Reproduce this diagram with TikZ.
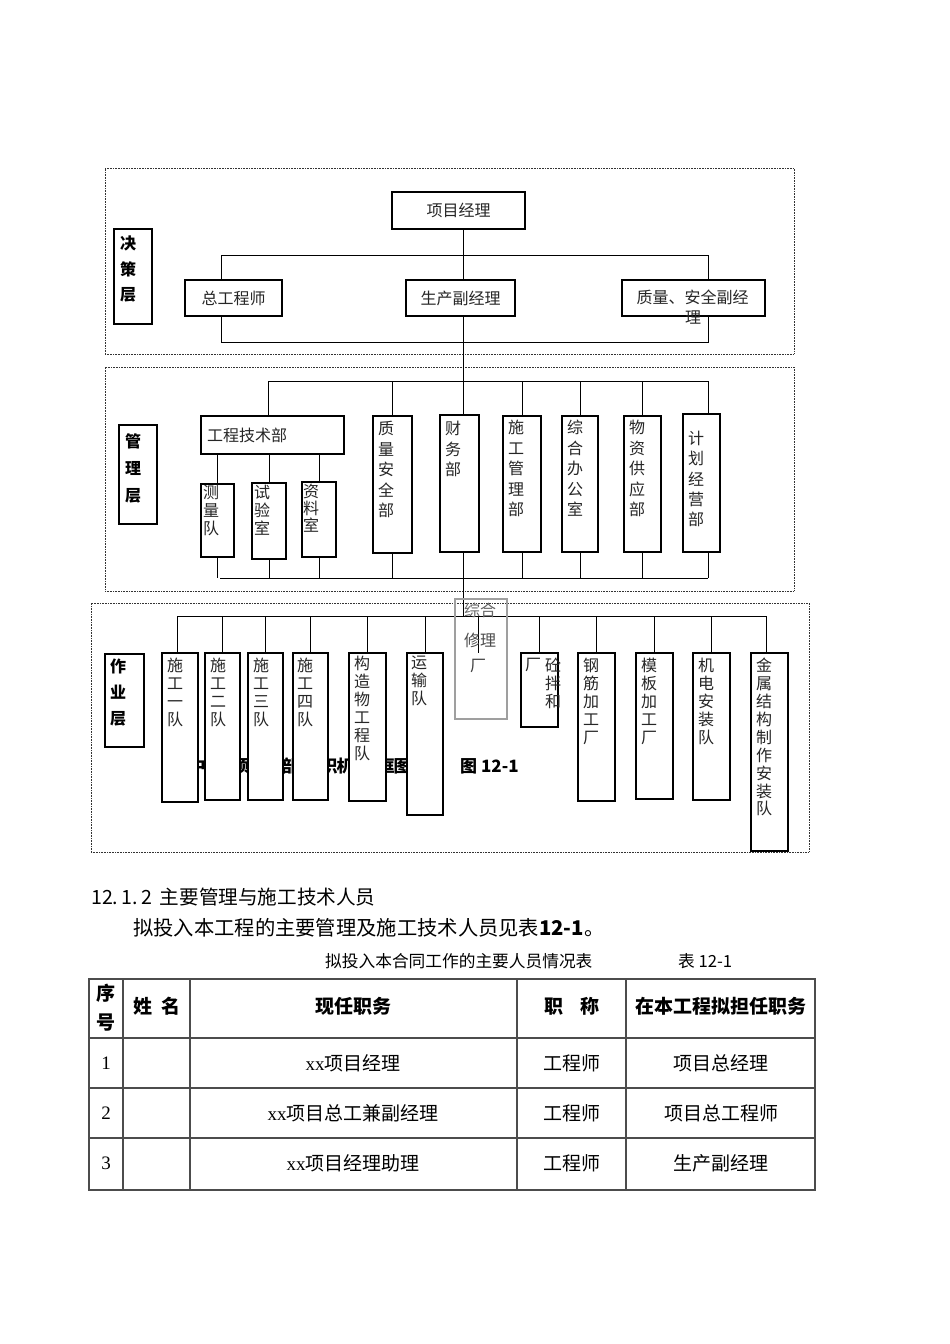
\documentclass[tikz,border=0pt]{standalone}
\usepackage{fontspec}
\setmainfont{Noto Sans CJK SC}
\newfontfamily\serifd{Liberation Serif}
\usetikzlibrary{fit}
\begin{document}
\begin{tikzpicture}[x=1pt,y=-1pt,
  box/.style={draw, line width=1.1pt, fill=white, inner sep=0pt},
  gbox/.style={draw=gray!75, line width=1.5pt, inner sep=0pt},
  lbox/.style={draw, line width=1.3pt, fill=white, inner sep=0pt},
  conn/.style={line width=1pt},
  frame/.style={draw=black!80, line width=0.8pt, dash pattern=on 0.8pt off 0.8pt, inner sep=0pt},
  vt/.style={anchor=north west, inner sep=0pt, align=left, text=black!85, font=\fontsize{16}{20.5}\selectfont},
  vts/.style={anchor=north west, inner sep=0pt, align=left, text=black!85, font=\fontsize{16}{17.9}\selectfont},
  lab/.style={anchor=north west, inner sep=0pt, align=left, font=\bfseries\fontsize{16}{26}\selectfont},
  ht/.style={inner sep=0pt, text=black!85, font=\fontsize{16}{18}\selectfont},
  capt/.style={inner sep=0pt, font=\bfseries\fontsize{17}{17}\selectfont},
  tl/.style={draw=black!70, line width=1.2pt},
  th/.style={inner sep=0pt, font=\bfseries\fontsize{19}{29}\selectfont, align=center},
  td/.style={inner sep=0pt, font=\fontsize{19}{22}\selectfont},
]
\useasboundingbox (0,0) rectangle (950,1344);

% ---------- dotted frames ----------
\node[frame, fit={(105,168) (794,354)}] (f1) {};
\node[frame, fit={(105,367) (794,591)}] (f2) {};
\node[frame, fit={(91,603) (809,852)}] (f3) {};

% ---------- coordinates ----------
\coordinate (spine) at (463,0);
\coordinate (t1L) at (221,255); \coordinate (t1R) at (708,255);
\coordinate (t2L) at (221,342); \coordinate (t2R) at (708,342);
\coordinate (m1L) at (268,381); \coordinate (m1R) at (708,381);
\coordinate (m2L) at (220,578); \coordinate (m2R) at (708,578);
\coordinate (b1L) at (177,616); \coordinate (b1R) at (766,616);
\coordinate (repx) at (478,0);

% ---------- hidden caption (covered by boxes) ----------
\node[capt] at (197,766) {中};
\node[capt] at (241,766) {项};
\node[capt] at (290,766) {部};
\node[capt] at (329,766) {织};
\node[capt] at (345,766) {机};
\node[capt] at (386,766) {框};
\node[capt] at (402,766) {图};
\node[capt, anchor=west] (fig) at (460,766) {图 12-1};

% ---------- top layer connectors ----------
\draw[conn] (t1L) -- (t1R) -- (t2R) -- (t2L) -- cycle;
\draw[conn] (spine |- 0,229) -- (spine |- b1L);

% ---------- top layer boxes ----------
\node[box, fit={(392,192) (525,229)}] (pm) {};
\node[ht] at (pm) {项目经理};
\node[box, fit={(185,280) (282,316)}] (ce) {};
\node[ht] at (ce) {总工程师};
\node[box, fit={(406,280) (515,316)}] (pd) {};
\node[ht] at (pd) {生产副经理};
\node[box, fit={(622,280) (765,316)}] (qs) {};
\node[ht] at (692.5,297) {质量、安全副经};
\node[ht] at (693,318) {理};
\node[lbox, fit={(114,229) (152,324)}] (L1) {};
\node[lab, font=\bfseries\fontsize{16}{25.5}\selectfont] at (120,236) {决\\策\\层};

% ---------- middle layer ----------
\node[box, fit={(201,416) (344,454)}] (etd) {};
\node[box, fit={(201,484) (234,557)}] (sv) {};
\node[box, fit={(252,483) (286,559)}] (lb) {};
\node[box, fit={(302,482) (336,557)}] (dc) {};
\node[box, fit={(373,416) (412,553)}] (qa) {};
\node[box, fit={(440,415) (479,552)}] (fin) {};
\node[box, fit={(503,416) (541,552)}] (cm) {};
\node[box, fit={(562,416) (598,552)}] (go) {};
\node[box, fit={(624,416) (661,552)}] (ms) {};
\node[box, fit={(683,414) (720,552)}] (pb) {};

\draw[conn] (m1L) -- (m1R);
\draw[conn] (m2L) -- (m2R);
\draw[conn] (etd.north -| m1L) -- (m1L);
\foreach \n in {qa,cm,go,ms} \draw[conn] (\n.north) -- (\n.north |- m1L);
\draw[conn] (pb.north -| m1R) -- (m1R);
\foreach \n in {sv,lb,dc} \draw[conn] (\n.north) -- (\n.north |- etd.south);
\foreach \n in {sv,lb,dc,qa,cm,go,ms} \draw[conn] (\n.south) -- (\n.south |- m2L);
\draw[conn] (pb.south -| m2R) -- (m2R);

\node[ht, anchor=west] at (207,435) {工程技术部};
\node[vts, font=\fontsize{16}{18}\selectfont] at (203,485) {测\\量\\队};
\node[vts, font=\fontsize{16}{18}\selectfont] at (254,485) {试\\验\\室};
\node[vts, font=\fontsize{16}{17}\selectfont] at (303,484) {资\\料\\室};
\node[vt] at (378,421) {质\\量\\安\\全\\部};
\node[vt] at (445,421) {财\\务\\部};
\node[vt] at (508,420) {施\\工\\管\\理\\部};
\node[vt] at (567,420) {综\\合\\办\\公\\室};
\node[vt] at (629,420) {物\\资\\供\\应\\部};
\node[vt, font=\fontsize{16}{20.3}\selectfont] at (688,431) {计\\划\\经\\营\\部};
\node[lbox, fit={(119,425) (157,524)}] (L2) {};
\node[lab, font=\bfseries\fontsize{16}{27}\selectfont] at (125,433) {管\\理\\层};

% ---------- bottom layer ----------
\draw[conn] (b1L) -- (b1R);
\draw[conn] (repx |- b1L) -- (repx |- 0,653);
\node[box, fit={(162,653) (198,802)}] (t1) {};
\node[box, fit={(205,653) (240,800)}] (t2) {};
\node[box, fit={(248,653) (283,800)}] (t3) {};
\node[box, fit={(293,653) (328,800)}] (t4) {};
\node[box, fit={(349,653) (386,801)}] (st) {};
\node[box, fit={(407,653) (443,815)}] (tr) {};
\node[box, fit={(521,653) (558,727)}] (cc) {};
\node[box, fit={(578,653) (615,801)}] (rb) {};
\node[box, fit={(636,653) (673,799)}] (fw) {};
\node[box, fit={(693,653) (730,800)}] (me) {};
\node[box, fit={(751,653) (788,851)}] (mt) {};
\node[gbox, fit={(455,599) (507,719)}] (rep) {};
\draw[conn] (t1.north -| b1L) -- (b1L);
\foreach \n in {t2,t3,t4,st,tr,cc,rb,fw,me} \draw[conn] (\n.north) -- (\n.north |- b1L);
\draw[conn] (mt.north -| b1R) -- (b1R);

\node[vts] at (167,658) {施\\工\\一\\队};
\node[vts] at (210,658) {施\\工\\二\\队};
\node[vts] at (253,658) {施\\工\\三\\队};
\node[vts] at (297,658) {施\\工\\四\\队};
\node[vts] at (354,656) {构\\造\\物\\工\\程\\队};
\node[vts] at (411,656) {运\\输\\队};
\node[vts] at (545,658) {砼\\拌\\和};
\node[ht] at (533,665) {厂};
\node[vts] at (583,658) {钢\\筋\\加\\工\\厂};
\node[vts] at (641,658) {模\\板\\加\\工\\厂};
\node[vts] at (698,658) {机\\电\\安\\装\\队};
\node[vts] at (756,658) {金\\属\\结\\构\\制\\作\\安\\装\\队};
\node[ht, text=black!60] at (480,610) {综合};
\node[ht, text=black!70] at (480,640) {修理};
\node[ht, text=black!75] at (478,666) {厂};
\node[lbox, fit={(105,654) (144,747)}] (L3) {};
\node[lab, font=\bfseries\fontsize{16}{26}\selectfont] at (110,659) {作\\业\\层};

% ---------- text below ----------
\node[inner sep=0pt, anchor=west, font=\fontsize{19.6}{22}\selectfont] (h) at (91,897) {12.\,1.\,2\, 主要管理与施工技术人员};
\node[inner sep=0pt, anchor=west, font=\fontsize{20.3}{22}\selectfont] (s) at (133,928) {拟投入本工程的主要管理及施工技术人员见表\textbf{12-1}。};
\node[inner sep=0pt, anchor=west, font=\fontsize{16.7}{20}\selectfont] (tt) at (325,961) {拟投入本合同工作的主要人员情况表};
\node[inner sep=0pt, anchor=west, font=\fontsize{16.7}{20}\selectfont] (tn) at (678,961) {表 12-1};

% ---------- table ----------
\draw[tl] (89,979) rectangle (815,1190);
\foreach \y in {1038,1088,1138} \draw[tl] (89,\y) -- (815,\y);
\foreach \x in {123,190,517,626} \draw[tl] (\x,979) -- (\x,1190);

\node[th] at (106,1008) {序\\号};
\node[th] at (157,1006) {姓\hspace{0.45em}名};
\node[th] at (353,1006) {现任职务};
\node[th] at (572,1006) {职\hspace{0.9em}称};
\node[th] at (721,1006) {在本工程拟担任职务};

\node[td] at (106,1063) {\serifd 1};
\node[td] at (353,1063) {{\serifd xx}项目经理};
\node[td] at (572,1063) {工程师};
\node[td] at (721,1063) {项目总经理};
\node[td] at (106,1113) {\serifd 2};
\node[td] at (353,1113) {{\serifd xx}项目总工兼副经理};
\node[td] at (572,1113) {工程师};
\node[td] at (721,1113) {项目总工程师};
\node[td] at (106,1163) {\serifd 3};
\node[td] at (353,1163) {{\serifd xx}项目经理助理};
\node[td] at (572,1163) {工程师};
\node[td] at (721,1163) {生产副经理};
\end{tikzpicture}
\end{document}
